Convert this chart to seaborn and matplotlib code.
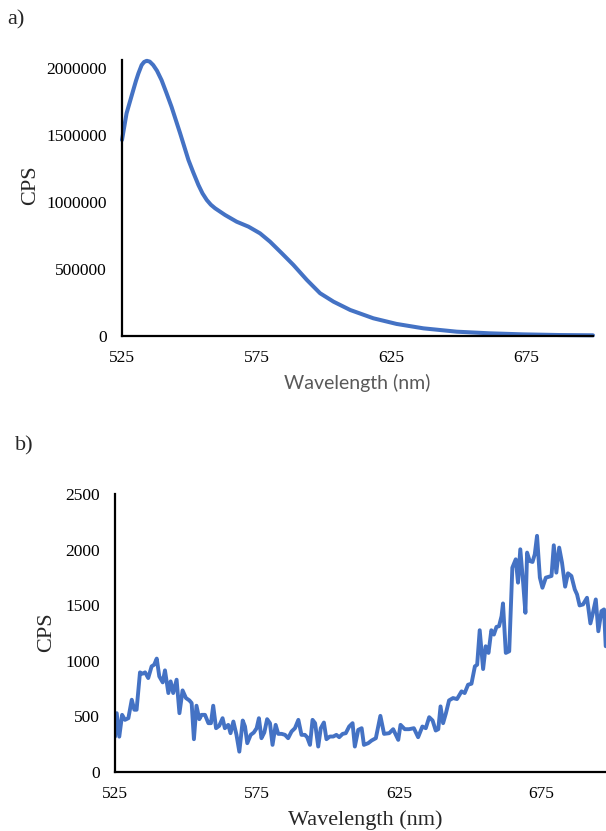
import matplotlib
matplotlib.use("Agg")
import matplotlib.pyplot as plt
import seaborn as sns
from matplotlib.ticker import FuncFormatter

# a) emission spectrum (values read off the reference)
top_wl = [525, 526.7, 529.2, 530.2, 531.1, 532.3, 533.2, 534.2, 535.3, 536.6,
          538, 539.7, 541.5, 543.4, 546.6, 549.7, 551.5, 553.4, 554.9, 556.5,
          558, 559.6, 563.3, 567.6, 572, 576.3, 580, 584.4, 588.7, 593.7,
          598.6, 603.6, 609.8, 618.4, 627, 637, 649.4, 661.4, 674, 687.6, 700]
top_cps = [1463000, 1662000, 1836000, 1905000, 1960000, 2022000, 2045000, 2054000,
           2048000, 2022000, 1980000, 1910000, 1815000, 1711000, 1513000, 1313000,
           1220000, 1127000, 1065000, 1015000, 980000, 953000, 903000, 853000,
           816000, 766000, 704000, 617000, 530000, 418000, 319000, 256000, 194000,
           132000, 90000, 57000, 32000, 20000, 12000, 7000, 5000]

# b) noisy spectrum
bot_wl = [525, 525.6, 526.5, 527.5, 528.5, 529.7, 530.9, 531.8, 532.6, 533.8,
          534.7, 535.6, 536.7, 537.9, 538.8, 539.7, 540.6, 541.8, 542.6, 543.8,
          544.6, 545.5, 546.7, 547.7, 548.8, 550, 551.2, 552, 552.8, 553.7,
          554.7, 555.5, 556.7, 557.9, 558.8, 559.6, 560.6, 561.7, 562.9, 563.7,
          564.9, 565.7, 566.7, 567.8, 568.8, 570, 570.8, 571.6, 572.8, 573.9,
          574.9, 575.7, 576.6, 577.6, 578.6, 579.6, 580.5, 581.6, 582.5, 583.7,
          584.9, 586, 587.2, 588.4, 589.6, 590.7, 591.9, 592.7, 593.7, 594.6,
          595.5, 596.6, 597.5, 598.6, 599.5, 600.7, 601.9, 603, 604, 605.2,
          606.3, 607.5, 608.7, 609.5, 610.7, 611.9, 612.7, 614.2, 615.4, 616.9,
          618.5, 619.8, 621.6, 623, 624.8, 625.6, 627.1, 628.6, 630.3, 631.8,
          633.3, 634.5, 635.7, 636.9, 638, 638.9, 639.7, 640.6, 641.6, 642.7,
          644.1, 645.5, 647.1, 648.2, 649.4, 650.6, 651.8, 652.6, 653.5, 654.7,
          655.6, 656.6, 657.6, 658.5, 659.4, 660.3, 661.2, 661.7, 662.7, 663.9,
          665, 666.2, 667, 667.8, 668.8, 669.6, 670.2, 671.1, 672.1, 672.9,
          673.7, 674.7, 675.6, 676.8, 678, 678.8, 679.6, 680.5, 681.5, 682.5,
          683.6, 684.6, 685.8, 687, 687.8, 688.7, 689.9, 691.3, 692.5, 693.4,
          694.4, 695.3, 696.4, 697.3, 697.9]
bot_cps = [318, 529, 318, 514, 469, 484, 650, 560, 560, 896,
           884, 896, 845, 950, 965, 1020, 860, 806, 914, 710,
           815, 710, 830, 529, 734, 665, 644, 620, 295, 596,
           475, 514, 514, 439, 439, 596, 394, 415, 484, 394,
           424, 349, 454, 334, 183, 463, 409, 259, 334, 355,
           394, 484, 304, 355, 475, 439, 244, 424, 343, 343,
           334, 304, 364, 394, 469, 334, 334, 313, 244, 469,
           439, 229, 394, 445, 295, 319, 319, 334, 313, 343,
           349, 409, 439, 229, 379, 394, 244, 259, 283, 304,
           505, 343, 349, 385, 289, 424, 385, 385, 394, 313,
           409, 394, 493, 463, 373, 385, 590, 439, 529, 644,
           665, 656, 725, 710, 785, 794, 950, 965, 1275, 926,
           1131, 1071, 1275, 1236, 1305, 1311, 1402, 1516, 1071, 1086,
           1838, 1913, 1703, 2003, 1703, 1432, 1973, 1898, 1889, 1958,
           2124, 1748, 1657, 1748, 1757, 1763, 2039, 1793, 2018, 1883,
           1667, 1787, 1763, 1642, 1597, 1498, 1507, 1567, 1336, 1432,
           1552, 1266, 1447, 1462, 1131]

x_ticks = [525, 575, 625, 675]
top_yticks = [0, 500000, 1000000, 1500000, 2000000]
bot_yticks = [0, 500, 1000, 1500, 2000, 2500]

blue = "#4472C4"
serif = "Liberation Serif"

sns.set_style("white")

fig = plt.figure(figsize=(6.06, 8.31), dpi=100)
ax1 = fig.add_axes([0.2013, 0.5957, 0.7772, 0.3321])
ax2 = fig.add_axes([0.1898, 0.0710, 0.8102, 0.3345])

sns.lineplot(x=top_wl, y=top_cps, ax=ax1, color=blue, linewidth=2.9)
sns.lineplot(x=bot_wl, y=bot_cps, ax=ax2, color=blue, linewidth=2.8)

for ax in (ax1, ax2):
    for line in ax.lines:
        line.set_solid_joinstyle("round")
        line.set_solid_capstyle("round")
    ax.spines["top"].set_visible(False)
    ax.spines["right"].set_visible(False)
    for s in ("left", "bottom"):
        ax.spines[s].set_color("black")
        ax.spines[s].set_linewidth(1.6)
    ax.set_xticks(x_ticks)
    ax.tick_params(length=0, labelsize=12.5, colors="black")
    ax.tick_params(axis="x", pad=10)
    ax.tick_params(axis="y", pad=11)
    ax.yaxis.set_major_formatter(FuncFormatter(lambda v, p: f"{int(v)}"))

ax1.lines[0].set_clip_on(False)
ax1.set_xlim(525, 700)
ax1.set_ylim(0, 2060000)
ax1.set_yticks(top_yticks)
ax2.set_xlim(525, 698)
ax2.set_ylim(0, 2500)
ax2.set_yticks(bot_yticks)
for ax in (ax1, ax2):
    for lab in ax.get_xticklabels() + ax.get_yticklabels():
        lab.set_fontfamily(serif)

ax1.set_xlabel("Wavelength (nm)", fontfamily="Lato", color="#595959", fontsize=14, va="center")
ax1.xaxis.set_label_coords(0.499, -0.170)
ax1.set_ylabel("CPS", fontfamily=serif, fontsize=16, va="center")
ax1.yaxis.set_label_coords(-0.195, 0.547)

ax2.set_xlabel("Wavelength (nm)", fontfamily=serif, fontsize=16, va="center")
ax2.xaxis.set_label_coords(0.509, -0.173)
ax2.set_ylabel("CPS", fontfamily=serif, fontsize=16, va="center")
ax2.yaxis.set_label_coords(-0.1385, 0.504)

fig.text(16 / 606, 1 - 20 / 831, "a)", fontfamily=serif, fontsize=16, ha="center", va="center")
fig.text(24 / 606, 1 - 446 / 831, "b)", fontfamily=serif, fontsize=16, ha="center", va="center")

fig.savefig("out.png", dpi=100)
